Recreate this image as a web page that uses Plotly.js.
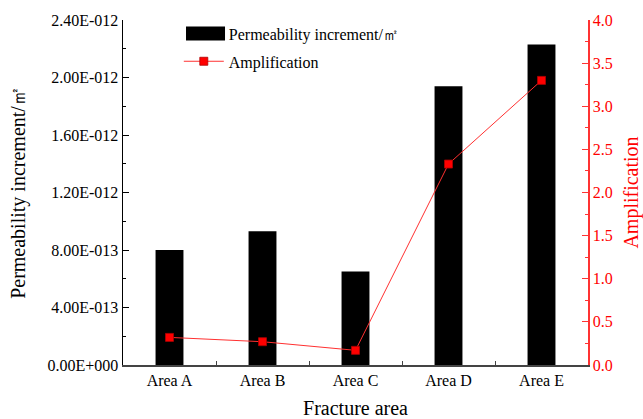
<!DOCTYPE html>
<html>
<head>
<meta charset="utf-8">
<script src="https://cdn.plot.ly/plotly-3.0.1.min.js"></script>
<style>html,body{margin:0;padding:0;background:#fff}</style>
</head>
<body>
<div id="chart" style="width:643px;height:419px"></div>
<script>
// Fracture areas and their measured values
const areas = ['Area A', 'Area B', 'Area C', 'Area D', 'Area E'];
const permeabilityIncrement = [8.0e-13, 9.3e-13, 6.5e-13, 1.94e-12, 2.23e-12];
const amplification = [0.32, 0.27, 0.17, 2.33, 3.30];

// Left axis ticks in the E-notation style of the original software
const leftTickValues = [0, 4e-13, 8e-13, 1.2e-12, 1.6e-12, 2.0e-12, 2.4e-12];
const leftTickLabels = ['0.00E+000', '4.00E-013', '8.00E-013', '1.20E-012', '1.60E-012', '2.00E-012', '2.40E-012'];

const serif = '"Liberation Serif", "Times New Roman", serif';

const traces = [
  {
    type: 'bar',
    name: 'Permeability increment/㎡',
    legendgroup: 'bars',
    x: areas,
    y: permeabilityIncrement,
    width: 0.3,
    marker: {color: '#000000', line: {color: '#000000', width: 0}},
    yaxis: 'y'
  },
  {
    type: 'scatter',
    mode: 'lines+markers',
    name: 'Amplification',
    legendgroup: 'ratio',
    x: areas,
    y: amplification,
    line: {color: '#ff3030', width: 1},
    marker: {symbol: 'square', size: 8, color: '#ff0000', line: {color: '#b00000', width: 0.8}},
    yaxis: 'y2'
  }
];

const layout = {
  width: 643,
  height: 419,
  margin: {l: 123, r: 55, t: 20, b: 54},
  paper_bgcolor: '#ffffff',
  plot_bgcolor: '#ffffff',
  font: {family: serif, size: 16, color: '#000'},
  showlegend: true,
  legend: {
    x: 0.12, y: 1.01, xanchor: 'left', yanchor: 'top',
    bgcolor: 'rgba(0,0,0,0)',
    font: {family: serif, size: 16, color: '#000'},
    itemwidth: 40,
    tracegroupgap: 4
  },
  // wide swatch behind the bar legend entry
  shapes: [{
    type: 'rect', xref: 'paper', yref: 'paper', layer: 'above',
    x0: 0.1355, x1: 0.2194, y0: 0.9406, y1: 0.9812,
    fillcolor: '#000000', line: {width: 0}
  }],
  xaxis: {
    type: 'category',
    range: [-0.5, 4.5],
    showline: true, linecolor: '#444', linewidth: 1.5,
    ticks: 'inside', tickson: 'boundaries', ticklen: 4, tickcolor: '#444', tickwidth: 1,
    showgrid: false, zeroline: false,
    tickfont: {family: serif, size: 16, color: '#000'},
    title: {text: 'Fracture area', font: {family: serif, size: 20, color: '#000'}, standoff: 14}
  },
  yaxis: {
    range: [0, 2.4e-12],
    tickvals: leftTickValues,
    ticktext: leftTickLabels,
    showline: true, linecolor: '#000', linewidth: 1.5,
    ticks: 'inside', ticklen: 6, tickcolor: '#000', tickwidth: 1,
    minor: {ticks: 'inside', ticklen: 3, dtick: 2e-13, tickcolor: '#000', tickwidth: 1, showgrid: false},
    showgrid: false, zeroline: false,
    tickfont: {family: serif, size: 16, color: '#000'},
    title: {text: 'Permeability increment/㎡', font: {family: serif, size: 20, color: '#000'}, standoff: 16}
  },
  yaxis2: {
    overlaying: 'y',
    side: 'right',
    range: [0, 4],
    dtick: 0.5,
    tickformat: '.1f',
    showline: true, linecolor: '#ff3333', linewidth: 1.5,
    ticks: 'inside', ticklen: 6, tickcolor: '#ff3333', tickwidth: 1,
    minor: {ticks: 'inside', ticklen: 3, dtick: 0.25, tickcolor: '#ff3333', tickwidth: 1, showgrid: false},
    showgrid: false, zeroline: false,
    tickfont: {family: serif, size: 16, color: '#ff0000'},
    title: {text: 'Amplification', font: {family: serif, size: 20, color: '#ff0000'}, standoff: 25}
  }
};

Plotly.newPlot('chart', traces, layout, {displayModeBar: false, staticPlot: true});
</script>
</body>
</html>
